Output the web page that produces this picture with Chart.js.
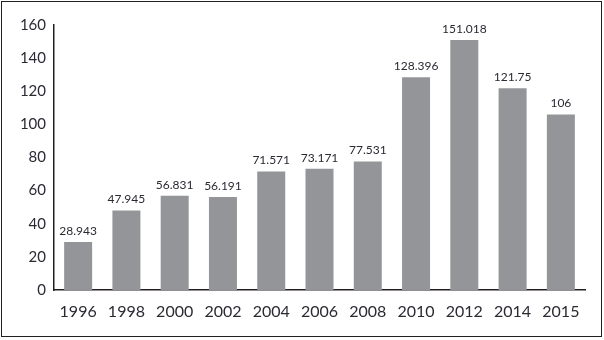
<!DOCTYPE html>
<html><head><meta charset="utf-8">
<script src="https://cdn.jsdelivr.net/npm/chart.js@4.4.1/dist/chart.umd.min.js"></script>
<style>
html,body{margin:0;padding:0;background:#fff;}
#frame{position:absolute;left:1px;top:1px;width:599px;height:334px;border:1.5px solid #231f20;}
#wrap{position:absolute;left:0;top:0;width:604px;height:340px;}
</style></head>
<body>
<div id="frame"></div>
<div id="wrap"><canvas id="c" width="604" height="340"></canvas></div>
<script>
const categories = ['1996','1998','2000','2002','2004','2006','2008','2010','2012','2014','2015'];
const values = [28.943, 47.945, 56.831, 56.191, 71.571, 73.171, 77.531, 128.396, 151.018, 121.75, 106];
const valueLabels = ['28.943','47.945','56.831','56.191','71.571','73.171','77.531','128.396','151.018','121.75','106'];

const FONT = 'Lato, "Open Sans", sans-serif';
const TEXT = '#2a2a33';

const labelPlugin = {
  id: 'valueLabels',
  afterDatasetsDraw(chart) {
    const ctx = chart.ctx;
    const meta = chart.getDatasetMeta(0);
    ctx.save();
    ctx.font = '12px ' + FONT;
    ctx.fillStyle = TEXT;
    ctx.textAlign = 'center';
    ctx.textBaseline = 'bottom';
    meta.data.forEach((bar, i) => {
      ctx.fillText(valueLabels[i], bar.x, bar.y - 5);
    });
    ctx.restore();
  }
};

new Chart(document.getElementById('c'), {
  type: 'bar',
  data: {
    labels: categories,
    datasets: [{
      data: values,
      backgroundColor: '#939598',
      borderWidth: 0,
      barPercentage: 0.58,
      categoryPercentage: 1.0
    }]
  },
  options: {
    responsive: false,
    animation: false,
    events: [],
    layout: { padding: { left: 0, right: 19, top: 25, bottom: 0 } },
    plugins: { legend: { display: false }, tooltip: { enabled: false } },
    scales: {
      x: {
        grid: { display: false, drawTicks: false },
        border: { display: true, color: '#231f20', width: 1.5 },
        ticks: { color: TEXT, font: { family: FONT, size: 16 }, padding: 12, maxRotation: 0, autoSkip: false },
        afterFit(scale) { scale.height = 50; }
      },
      y: {
        min: 0, max: 160,
        grid: { display: false, drawTicks: false },
        border: { display: true, color: '#231f20', width: 1.5 },
        ticks: { stepSize: 20, color: TEXT, font: { family: FONT, size: 15 }, padding: 8 },
        afterFit(scale) { scale.width = 54; }
      }
    }
  },
  plugins: [labelPlugin]
});
</script>
</body></html>
